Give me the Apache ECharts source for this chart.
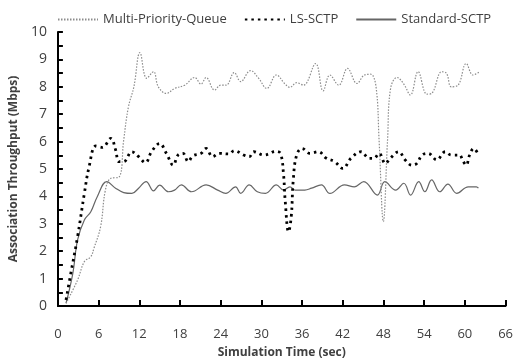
<!DOCTYPE html>
<html><head><meta charset="utf-8">
<script src="https://cdn.jsdelivr.net/npm/echarts@6/dist/echarts.min.js"></script>
<style>html,body{margin:0;padding:0;background:#fff}#c{width:516px;height:364px}</style>
</head><body><div id="c"></div>
<script>
var xTicks = [0,6,12,18,24,30,36,42,48,54,60,66];
var mpqX = [1.2,2.9,3.9,4.85,5.3,6.3,7.0,7.8,9.0,9.7,10.4,11.2,12.1,13.1,14.1,14.8,16.0,17.2,18.7,20.15,21.1,21.85,23.1,24.0,24.8,26.0,26.95,28.4,29.6,30.8,32.2,33.5,34.2,35.2,36.2,38.0,39.1,40.1,41.4,42.7,44.1,45.2,46.1,46.9,47.35,47.98,48.6,49.05,50.0,51.0,51.96,53.1,54.4,55.1,56.6,57.3,58.0,59.0,60.2,61.2,62.15];
var mpqY = [0.1,0.95,1.62,1.8,2.1,2.9,4.23,4.66,4.7,6.06,7.27,8.0,9.25,8.31,8.55,8.0,7.76,7.94,8.06,8.34,8.1,8.34,7.88,8.06,8.06,8.52,8.19,8.59,8.31,7.94,8.43,8.1,7.98,8.15,8.06,8.85,7.85,8.43,8.06,8.67,8.12,8.43,8.46,8.0,6.06,3.08,6.06,7.94,8.34,8.1,7.7,8.55,7.73,7.76,8.55,8.49,8.0,8.06,8.85,8.43,8.55];
var lsX = [1.2,1.9,2.9,3.9,4.6,5.6,6.55,7.8,8.5,9.0,9.7,10.9,11.9,12.9,13.8,15.0,16.0,17.0,17.7,18.45,19.2,19.9,21.1,21.85,22.8,23.8,25.25,26.0,27.4,28.2,28.9,30.35,31.3,32.0,32.8,33.25,33.5,34.0,34.4,34.7,35.2,36.0,37.15,38.4,39.6,40.8,42.0,43.2,44.7,45.9,46.6,47.35,48.3,49.0,50.25,51.2,52.2,52.9,53.7,54.6,55.85,57.1,58.0,59.2,59.7,60.2,60.7,61.3,61.9];
var lsY = [0.22,1.19,2.53,4.11,5.08,5.84,5.79,6.12,5.7,5.27,5.27,5.63,5.45,5.23,5.63,5.93,5.57,5.14,5.51,5.57,5.27,5.48,5.57,5.75,5.45,5.57,5.55,5.67,5.51,5.45,5.63,5.51,5.57,5.65,5.57,4.84,3.87,2.71,3.26,4.6,5.51,5.75,5.57,5.63,5.39,5.27,5.02,5.39,5.63,5.39,5.39,5.57,5.2,5.39,5.63,5.33,5.14,5.2,5.51,5.57,5.33,5.63,5.51,5.51,5.3,5.14,5.51,5.75,5.57];
var stdX = [1.2,2.2,2.9,3.9,4.85,5.8,7.2,8.5,9.7,10.9,11.9,13.0,14.1,15.0,16.3,17.2,18.2,19.7,21.85,23.55,24.75,26.2,26.95,28.2,29.4,30.6,32.2,33.25,34.2,35.0,36.4,37.4,38.85,40.1,42.25,43.7,45.1,47.1,48.2,49.8,51.0,52.0,53.2,54.1,55.1,56.3,57.5,58.8,60.5,61.7,62.0];
var stdY = [0.1,1.19,2.41,3.14,3.44,3.99,4.54,4.3,4.14,4.11,4.3,4.54,4.2,4.41,4.17,4.23,4.42,4.17,4.42,4.23,4.11,4.35,4.11,4.42,4.17,4.11,4.42,4.23,4.35,4.23,4.23,4.3,4.42,4.11,4.42,4.35,4.54,4.05,4.54,4.23,4.48,4.05,4.54,4.17,4.6,4.17,4.45,4.11,4.35,4.35,4.3];

function pairs(xs, ys){ return xs.map(function(x,i){ return [x, ys[i]]; }); }

var font = 'Open Sans';
var chart = echarts.init(document.getElementById('c'));
chart.setOption({
  animation: false,
  backgroundColor: '#fff',
  legend: {
    top: 8, left: 52, itemWidth: 40, itemHeight: 10, itemGap: 17,
    itemStyle: {opacity: 0},
    textStyle: {fontFamily: font, fontSize: 13, color: '#404040'},
    data: ['Multi-Priority-Queue','LS-SCTP','Standard-SCTP']
  },
  grid: {left: 56, right: 8, top: 32, bottom: 58},
  xAxis: {
    type: 'value', min: 0, max: 66, interval: 6,
    name: 'Simulation Time (sec)', nameLocation: 'middle', nameGap: 41,
    nameTextStyle: {fontFamily: font, fontSize: 12, fontWeight: 'bold', color: '#404040'},
    axisLine: {lineStyle: {color: '#000', width: 2}},
    axisTick: {show: true, inside: true, length: 6, lineStyle: {color: '#000', width: 2}},
    axisLabel: {fontFamily: font, fontSize: 13, color: '#404040', margin: 22},
    splitLine: {show: false}
  },
  yAxis: {
    type: 'value', min: 0, max: 10, interval: 1,
    name: 'Association Throughput (Mbps)', nameLocation: 'middle', nameGap: 33,
    nameTextStyle: {fontFamily: font, fontSize: 12, fontWeight: 'bold', color: '#404040'},
    axisLine: {show: true, lineStyle: {color: '#000', width: 2}},
    axisTick: {show: true, inside: true, length: 5, lineStyle: {color: '#000', width: 2}},
    minorTick: {show: true, splitNumber: 2, length: 5, lineStyle: {color: '#000', width: 2}},
    axisLabel: {fontFamily: font, fontSize: 14, color: '#404040', margin: 11},
    splitLine: {show: false}
  },
  series: [
    {name: 'Multi-Priority-Queue', type: 'line', smooth: 0.4, symbol: 'none',
     data: pairs(mpqX, mpqY), z: 3,
     itemStyle: {color: '#8c8c8c'},
     lineStyle: {color: '#8c8c8c', width: 1.2, type: [1.5, 1.5]}},
    {name: 'LS-SCTP', type: 'line', smooth: 0.4, symbol: 'none',
     data: pairs(lsX, lsY), z: 4,
     itemStyle: {color: '#000'},
     lineStyle: {color: '#000', width: 2.8, type: [2.5, 4]}},
    {name: 'Standard-SCTP', type: 'line', smooth: 0.4, symbol: 'none',
     data: pairs(stdX, stdY), z: 2,
     itemStyle: {color: '#555'},
     lineStyle: {color: '#666', width: 1.2, type: 'solid'}}
  ]
});
</script></body></html>
